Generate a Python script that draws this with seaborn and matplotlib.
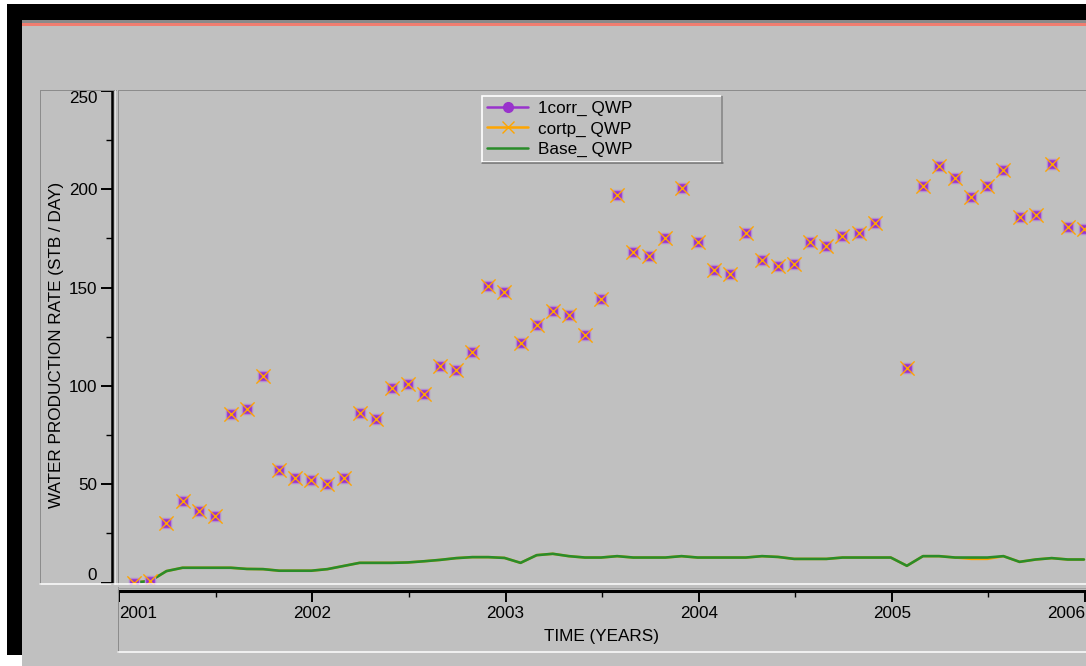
import numpy as np
import matplotlib
matplotlib.use("Agg")
import matplotlib.pyplot as plt
from matplotlib.lines import Line2D
from matplotlib.patches import Rectangle
import seaborn as sns

sns.set_theme(style="ticks")
plt.rcParams["font.family"] = ["Liberation Sans", "DejaVu Sans"]

# monthly report steps, Feb 2001 .. Jan 2006 (decimal years)
years = 2001 + (np.arange(60) + 0.93) / 12

# 1corr_ QWP (purple squares), cortp_ QWP markers sit on the same values
corr_rate = [0, 1, 30.5, 41.7, 36.6, 33.6, 85.5, 88.5, 104.8, 57,
             53, 52, 50, 53, 86, 83, 98.7, 100.8, 96, 110,
             108, 117, 151, 148, 122, 131, 138, 136, 125.7, 144,
             197, 168, 166, 175, 200.5, 173, 159, 157, 177.6, 164,
             161, 162, 173, 171, 176, 178, 183, np.nan, 109, 201.5,
             212, 206, 196, 201.5, 210, 186, 187, 213, 181, 180]

# Base_ QWP
base_rate = [0, 0.8, 5.8, 7.5, 7.5, 7.5, 7.5, 6.9, 6.8, 6.0,
             6.0, 6.0, 6.8, 8.4, 10, 10, 10, 10.2, 10.8, 11.5,
             12.4, 12.9, 12.9, 12.5, 10, 13.9, 14.6, 13.4, 12.7, 12.7,
             13.4, 12.7, 12.7, 12.7, 13.4, 12.7, 12.7, 12.7, 12.7, 13.4,
             13.0, 12.0, 12.0, 12.0, 12.7, 12.7, 12.7, 12.7, 8.5, 13.4,
             13.4, 12.7, 12.7, 12.7, 13.4, 10.5, 11.7, 12.4, 11.7, 11.7]

# cortp_ QWP line (mostly hidden under Base)
cortp_line = [0, 0.8, 5.8, 7.5, 7.5, 7.5, 7.5, 6.9, 6.8, 6.0,
              6.0, 6.0, 6.8, 8.4, 10, 10, 10, 10.2, 10.8, 11.5,
              12.4, 12.9, 12.9, 12.5, 10, 13.9, 14.6, 13.4, 12.7, 12.7,
              13.4, 12.7, 12.7, 12.7, 13.4, 12.7, 12.7, 12.7, 12.7, 13.4,
              13.0, 12.0, 12.0, 12.0, 12.7, 12.7, 12.7, 12.7, 8.5, 13.4,
              13.4, 12.7, 12.0, 12.0, 13.4, 10.5, 11.7, 12.4, 11.7, 11.7]

year_ticks = [2001, 2002, 2003, 2004, 2005, 2006]
year_minor = [2001.5, 2002.5, 2003.5, 2004.5, 2005.5]
rate_ticks = [0, 50, 100, 150, 200, 250]
rate_minor = [25, 75, 125, 175, 225]
series_names = ["1corr_ QWP", "cortp_ QWP", "Base_ QWP"]

PURPLE = "#9933CC"
ORANGE = "#FFA500"
GREEN = "#2A8C2A"
BG = "#C0C0C0"
FS = 12.3

W, H = 1086, 666
fig = plt.figure(figsize=(W / 100, H / 100), dpi=100, facecolor="white")


def rect(x0, y0, x1, y1, color, z=-10):
    fig.patches.append(Rectangle((x0 / W, 1 - y1 / H), (x1 - x0) / W, (y1 - y0) / H,
                                 transform=fig.transFigure, color=color, zorder=z, lw=0))


def hline(y, x0, x1, color, px=1.0, z=6):
    fig.add_artist(Line2D([x0 / W, x1 / W], [1 - y / H, 1 - y / H], color=color,
                          lw=px * 0.72, transform=fig.transFigure, zorder=z))


def vline(x, y0, y1, color, px=1.0, z=6):
    fig.add_artist(Line2D([x / W, x / W], [1 - y0 / H, 1 - y1 / H], color=color,
                          lw=px * 0.72, transform=fig.transFigure, zorder=z))


# window frame
rect(7, 4, W, 655, "black")
rect(22, 20, W, H, BG, z=-9)
rect(22, 20, W, 23, "#8a8a8a", z=-8)
rect(22, 23, W, 26, "#F07D70", z=-8)

# panel bevels
vline(40, 90, 584, "#8c8c8c")
hline(90, 40, 116, "#8c8c8c")
vline(114.5, 90, 584, "#e2e2e2")
vline(118, 90, 584, "#8c8c8c")
hline(90, 118, W, "#8c8c8c")
hline(584, 40, W, "white", 1.5)
vline(118, 587, 652, "#8c8c8c")
hline(587.5, 118, W, "#a0a0a0")
hline(652, 118, W, "white", 1.5)

ax = fig.add_axes([118 / W, 1 - 584 / H, (W - 118) / W, (584 - 90) / H])
ax.set_facecolor("none")

# pixel -> data mapping
px_per_year = 193.15
px_per_unit = 1.966
ax.set_xlim(2001 + (118 - 119.3) / px_per_year, 2001 + (W - 119.3) / px_per_year)
ax.set_ylim((582.5 - 584) / px_per_unit, (582.5 - 90) / px_per_unit)

sns.lineplot(x=years, y=cortp_line, color=ORANGE, lw=1.8, estimator=None, ax=ax, zorder=2)
sns.lineplot(x=years, y=base_rate, color=GREEN, lw=1.9, estimator=None, ax=ax, zorder=3)
sns.scatterplot(x=years, y=corr_rate, marker="s", s=58, color=PURPLE,
                edgecolor="#B488D4", linewidth=1.0, ax=ax, zorder=4)
sns.scatterplot(x=years, y=corr_rate, marker="x", s=105, color=ORANGE,
                linewidth=1.0, ax=ax, zorder=5)

for s in ["top", "right"]:
    ax.spines[s].set_visible(False)
ax.spines["left"].set_position(("outward", 4.5))
ax.spines["left"].set_linewidth(1.8)
ax.spines["left"].set_bounds(0, 250)
ax.spines["bottom"].set_position(("outward", 4.7))
ax.spines["bottom"].set_linewidth(2.2)
ax.spines["bottom"].set_bounds(2001, 2006)
for s in ["left", "bottom"]:
    ax.spines[s].set_color("black")

ax.set_xticks(year_ticks, labels=[str(y) for y in year_ticks])
ax.set_xticks(year_minor, minor=True)
ax.set_yticks(rate_ticks, labels=[str(v) for v in rate_ticks])
ax.set_yticks(rate_minor, minor=True)
ax.tick_params(which="major", direction="out", length=8, width=1.4, color="black",
               labelsize=FS, labelcolor="black")
ax.tick_params(which="minor", direction="out", length=4.3, width=1.0, color="black")
ax.tick_params(axis="x", which="major", pad=3.5)
ax.tick_params(axis="y", which="major", pad=2.5)

xl = ax.get_xticklabels()
xl[0].set_ha("left")
xl[-1].set_ha("right")
yl = ax.get_yticklabels()
yl[0].set_va("bottom")
yl[-1].set_va("top")

ax.set_ylabel("WATER PRODUCTION RATE (STB / DAY)", fontsize=FS, color="black")
ax.yaxis.label.set_va("center")
ax.yaxis.set_label_coords((57 - 118) / (W - 118), (584 - 345) / 494)
ax.set_xlabel("TIME (YEARS)", fontsize=FS, color="black")
ax.xaxis.label.set_va("center")
ax.xaxis.set_label_coords(0.5, -(636 - 584) / 494)

handles = [
    Line2D([], [], color=PURPLE, marker="o", markersize=7, lw=1.8, label=series_names[0]),
    Line2D([], [], color=ORANGE, marker="x", markersize=9, mew=1.0, lw=1.8, label=series_names[1]),
    Line2D([], [], color=GREEN, lw=1.8, label=series_names[2]),
]
leg = ax.legend(handles=handles, loc="upper left", mode="expand",
                bbox_to_anchor=(482 / W, 1 - 162 / H, 240 / W, 66 / H),
                bbox_transform=fig.transFigure, frameon=True, fancybox=False,
                facecolor=BG, edgecolor="white", framealpha=1, fontsize=FS,
                handlelength=2.4, handletextpad=0.6, labelspacing=0.3,
                borderpad=0.3, borderaxespad=0)
leg.get_frame().set_linewidth(1.2)
for t in leg.get_texts():
    t.set_color("black")
vline(722, 96, 163, "#707070", 1.5, z=10)
hline(162.5, 482, 723, "#707070", 1.5, z=10)

fig.savefig("out.png", dpi=100, facecolor=fig.get_facecolor())
